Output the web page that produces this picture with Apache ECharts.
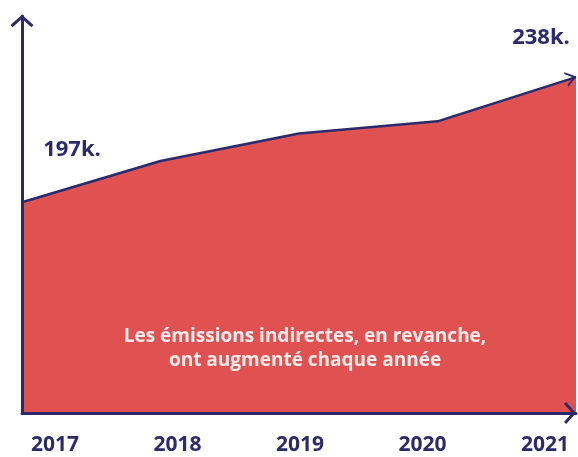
<!DOCTYPE html>
<html><head><meta charset="utf-8">
<script src="https://cdn.jsdelivr.net/npm/echarts@6/dist/echarts.min.js"></script>
<style>html,body{margin:0;padding:0;background:#fff}#c{width:578px;height:457px}</style>
</head><body><div id="c"></div>
<script>
const years = ['2017','2018','2019','2020','2021'];
const emissions = [197, 210.5, 219.5, 223.5, 238];
const valueLabels = ['197k.', '', '', '', '238k.'];
const note = 'Les émissions indirectes, en revanche,\nont augmenté chaque année';

const navy = '#2d2a6b';
const red = '#e05252';
const chevron = 'path://M0,10 L5,0 L10,10 L8.8,10.8 L5,3.2 L1.2,10.8 Z';
const wideChevron = 'path://M0,9 L10,0 L20,9 L18.2,11 L10,3.6 L1.8,11 Z';

const labelStyle = {color: navy, fontFamily: 'Open Sans', fontWeight: 'bold', fontSize: 22, position: 'inside'};

const chart = echarts.init(document.getElementById('c'));
chart.setOption({
  animation: false,
  grid: [
    {left: 22, right: 2, top: 16, bottom: 44},
    {left: 55, right: 33, top: 400, height: 20}
  ],
  xAxis: [
    {type: 'category', data: years, boundaryGap: false, gridIndex: 0, z: 5,
     axisLine: {show: true, lineStyle: {color: navy, width: 3}, symbol: ['none', wideChevron], symbolSize: [22, 12], symbolOffset: [0, -6]},
     axisTick: {show: false}, axisLabel: {show: false}, splitLine: {show: false}},
    {type: 'category', data: years, boundaryGap: false, gridIndex: 1,
     axisLine: {show: false}, axisTick: {show: false}, splitLine: {show: false},
     axisLabel: {show: true, margin: 15, color: navy, fontFamily: 'Open Sans', fontWeight: 'bold', fontSize: 21}}
  ],
  yAxis: [
    {type: 'value', min: 128, max: 258, gridIndex: 0, z: 5,
     axisLine: {show: true, lineStyle: {color: navy, width: 3}, symbol: ['none', wideChevron], symbolSize: [23, 13], symbolOffset: [0, -5]},
     axisTick: {show: false}, axisLabel: {show: false}, splitLine: {show: false}},
    {type: 'value', gridIndex: 1, show: false}
  ],
  series: [{
    type: 'line', xAxisIndex: 0, yAxisIndex: 0, z: 1,
    data: emissions.map((v, i) => {
      const item = {value: v};
      if (i === emissions.length - 1) {
        item.symbol = chevron; item.symbolSize = [15, 11]; item.symbolRotate = -74; item.symbolOffset = [-5, 1];
        item.itemStyle = {color: navy};
        item.label = Object.assign({show: true, formatter: valueLabels[i], offset: [-30, -40]}, labelStyle);
      } else if (i === 0) {
        item.symbol = 'circle'; item.symbolSize = 2; item.itemStyle = {color: 'rgba(0,0,0,0)'};
        item.label = Object.assign({show: true, formatter: valueLabels[i], offset: [50, -53]}, labelStyle);
      }
      return item;
    }),
    showSymbol: true, symbol: 'none',
    lineStyle: {color: navy, width: 2.5},
    areaStyle: {color: red, opacity: 1},
    label: {show: false}
  }],
  graphic: [{
    type: 'text', x: 305, y: 325, z: 10,
    style: {text: note, fill: '#fbecec', font: 'bold 19px "Open Sans"', textAlign: 'center', lineHeight: 24}
  }]
});
</script></body></html>
